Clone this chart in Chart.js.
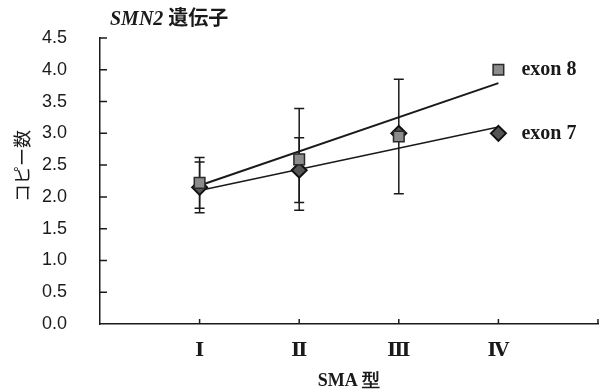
<!DOCTYPE html>
<html>
<head>
<meta charset="utf-8">
<script src="https://cdn.jsdelivr.net/npm/chart.js@4"></script>
<style>
  html, body { margin: 0; padding: 0; background: #fff; }
</style>
</head>
<body>
<canvas id="chart" width="604" height="392"></canvas>
<script>
// SMA型ごとのSMN2コピー数
const categories = ["Ⅰ", "Ⅱ", "Ⅲ", "Ⅳ"];
const catPos = [1, 2, 3, 4];
const exon8 = [2.22, 2.59, 2.95, 4.0];
const exon8Err = [0.4, 0.8, 0.9, null];
const exon7 = [2.15, 2.42, 3.0, 3.0];
const exon7Err = [0.4, 0.51, null, null];
// 近似直線 (Ⅰ と Ⅳ の値)
const trendPos = [1, 4];
const exon8Trend = [2.18, 3.79];
const exon7Trend = [2.1, 3.1];
const yMax = 4.5;
const yStep = 0.5;

const INK = "#1a1a1a";
const serif = "'Liberation Serif', 'DejaVu Serif', serif";
const cjk = "'Noto Sans CJK JP', sans-serif";

const pts = (arr, pos) => arr.map((v, i) => ({ x: pos[i], y: v }));

// エラーバー
const errorBars = {
  id: "errorBars",
  beforeDatasetsDraw(chart) {
    const { ctx } = chart;
    const y = chart.scales.y;
    ctx.save();
    ctx.strokeStyle = INK;
    ctx.lineWidth = 1.5;
    chart.data.datasets.forEach((ds, i) => {
      if (!ds.errors) return;
      const meta = chart.getDatasetMeta(i);
      ds.errors.forEach((e, j) => {
        if (e == null) return;
        const px = meta.data[j].x;
        const v = ds.data[j].y;
        const top = y.getPixelForValue(v + e);
        const bot = y.getPixelForValue(v - e);
        ctx.beginPath();
        ctx.moveTo(px, top); ctx.lineTo(px, bot);
        ctx.moveTo(px - 5, top); ctx.lineTo(px + 5, top);
        ctx.moveTo(px - 5, bot); ctx.lineTo(px + 5, bot);
        ctx.stroke();
      });
    });
    ctx.restore();
  },
};

// 内向きの目盛り・系列ラベル・タイトル
const decorations = {
  id: "decorations",
  afterDraw(chart) {
    const { ctx, chartArea: a } = chart;
    const x = chart.scales.x, y = chart.scales.y;
    ctx.save();
    ctx.strokeStyle = INK;
    ctx.lineWidth = 1.5;
    ctx.beginPath();
    y.ticks.forEach(t => {
      if (t.value === 0) return;
      const py = y.getPixelForValue(t.value);
      ctx.moveTo(a.left, py); ctx.lineTo(a.left + 7, py);
    });
    x.ticks.forEach(t => {
      if (t.value === 0) return;
      const px = x.getPixelForValue(t.value);
      ctx.moveTo(px, a.bottom); ctx.lineTo(px, a.bottom - 5);
    });
    ctx.stroke();

    ctx.fillStyle = INK;
    ctx.textBaseline = "middle";
    ctx.textAlign = "left";
    ctx.font = "bold 20px " + serif;
    chart.data.datasets.forEach((ds, i) => {
      if (!ds.endLabel) return;
      const meta = chart.getDatasetMeta(i);
      const el = meta.data[meta.data.length - 1];
      ctx.fillText(ds.endLabel, el.x + 23, el.y);
    });

    ctx.textBaseline = "alphabetic";
    ctx.font = "italic bold 20px " + serif;
    ctx.fillText("SMN2", 110, 25);
    const w = ctx.measureText("SMN2 ").width;
    ctx.font = "bold 20px " + cjk;
    ctx.fillText("遺伝子", 110 + w, 25);

    // 縦軸タイトル
    ctx.save();
    ctx.translate(22, 166);
    ctx.rotate(-Math.PI / 2);
    ctx.textAlign = "center";
    ctx.textBaseline = "middle";
    ctx.font = "18px " + cjk;
    ctx.fillText("コピー数", 0, 0);
    ctx.restore();
    ctx.restore();
  },
};

new Chart(document.getElementById("chart"), {
  type: "scatter",
  data: {
    datasets: [
      {
        label: "exon 8",
        endLabel: "exon 8",
        order: 0,
        data: pts(exon8, catPos),
        errors: exon8Err,
        pointStyle: "rect",
        pointRadius: 7.5,
        backgroundColor: "#8c8c8c",
        borderColor: "#2a2a2a",
        borderWidth: 1.5,
      },
      {
        label: "exon 7",
        endLabel: "exon 7",
        order: 1,
        data: pts(exon7, catPos),
        errors: exon7Err,
        pointStyle: "rectRot",
        pointRadius: 7.5,
        backgroundColor: "#555",
        borderColor: "#111",
        borderWidth: 2,
      },
      {
        label: "exon 8 trend",
        type: "line",
        order: 2,
        data: pts(exon8Trend, trendPos),
        borderColor: INK,
        borderWidth: 2,
        pointRadius: 0,
        fill: false,
      },
      {
        label: "exon 7 trend",
        type: "line",
        order: 3,
        data: pts(exon7Trend, trendPos),
        borderColor: INK,
        borderWidth: 1.6,
        pointRadius: 0,
        fill: false,
      },
    ],
  },
  options: {
    responsive: false,
    animation: false,
    layout: { autoPadding: false, padding: { top: 38, right: 6, left: 0, bottom: 0 } },
    plugins: { legend: { display: false }, tooltip: { enabled: false } },
    scales: {
      x: {
        type: "linear",
        min: 0,
        max: categories.length + 1,
        afterFit: s => { s.height = 68; s.paddingLeft = 0; s.paddingRight = 0; },
        border: { display: true, color: INK, width: 1.5 },
        grid: { display: false },
        ticks: {
          stepSize: 1,
          color: INK,
          padding: 8,
          font: { family: serif, size: 19, weight: "bold" },
          callback: v => categories[catPos.indexOf(v)] || "",
        },
        title: {
          display: true,
          text: "SMA 型",
          color: INK,
          font: { family: serif, size: 18, weight: "bold" },
          padding: { top: 3, bottom: 0 },
        },
      },
      y: {
        min: 0,
        max: yMax,
        afterFit: s => { s.width = 100; },
        border: { display: true, color: INK, width: 1.5 },
        grid: { display: false },
        ticks: {
          stepSize: yStep,
          color: INK,
          padding: 25,
          font: { family: "'Liberation Sans', Arial, sans-serif", size: 18 },
          callback: v => v.toFixed(1),
        },
      },
    },
  },
  plugins: [errorBars, decorations],
});
</script>
</body>
</html>
